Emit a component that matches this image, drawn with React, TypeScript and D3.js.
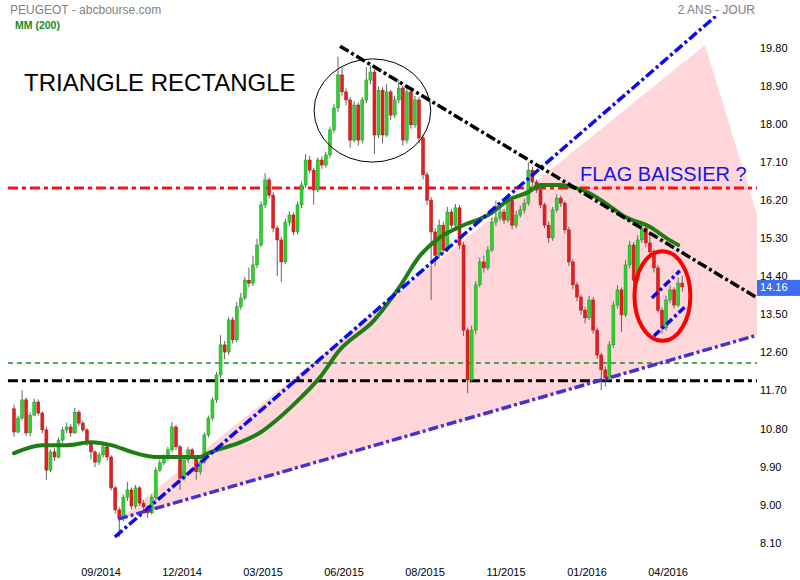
import React from "react";
import * as d3 from "d3";

// closes, one candle per 3 sessions (open = previous close)
const firstOpen = 11.28;
const closes = [
  10.73, 11.06, 11.49, 10.71, 11.13, 11.44, 11.18, 10.78, 9.83, 10.26,
  10.14, 10.54, 10.78, 10.85, 10.71, 11.2, 10.94, 10.78, 10.47, 10.26,
  10.02, 10.19, 10.38, 10.14, 9.41, 8.89, 8.7, 9.19, 9.36, 8.98,
  9.41, 9.05, 8.96, 8.82, 9.19, 9.83, 10.0, 10.12, 10.31, 10.85,
  10.38, 9.64, 10.07, 10.31, 10.14, 9.79, 10.02, 10.66, 11.06, 11.49,
  12.08, 12.79, 12.62, 13.38, 12.91, 13.69, 13.9, 14.32, 14.25, 14.68,
  15.15, 16.1, 16.69, 16.33, 15.55, 15.27, 14.75, 15.69, 15.86, 15.46,
  16.1, 16.57, 17.16, 16.92, 16.45, 17.16, 17.04, 17.28, 17.87, 18.39,
  19.17, 18.77, 18.58, 17.63, 18.46, 17.63, 18.58, 19.05, 19.24, 17.75,
  18.81, 17.75, 18.77, 18.22, 18.58, 18.86, 17.63, 18.77, 17.99, 18.58,
  17.68, 16.81, 16.21, 15.46, 14.91, 15.62, 15.03, 15.93, 15.62, 16.03,
  15.15, 13.14, 11.96, 13.14, 14.21, 14.75, 14.61, 15.03, 15.69, 15.79,
  15.93, 15.74, 16.21, 15.62, 15.86, 15.98, 16.14, 16.92, 16.64, 16.45,
  16.1, 15.62, 15.32, 15.98, 16.26, 16.14, 15.51, 14.75, 14.21, 13.92,
  13.61, 13.43, 13.85, 13.14, 12.55, 12.2, 12.01, 12.79, 13.73, 14.09,
  13.5, 14.68, 15.15, 14.32, 15.27, 15.55, 15.2, 14.99, 14.61, 13.61,
  13.19, 13.85, 14.09, 13.73, 14.25, 14.16,
];
const highs = [
  11.38, 11.12, 11.72, 11.55, 11.2, 11.52, 11.5, 11.22, 10.85, 10.32,
  10.35, 10.6, 10.85, 10.95, 10.92, 11.3, 11.25, 11.0, 10.82, 10.52,
  10.3, 10.25, 10.45, 10.42, 10.18, 9.45, 8.95, 9.25, 9.55, 9.42,
  9.48, 9.45, 9.12, 9.0, 9.25, 9.9, 10.08, 10.2, 10.38, 10.97,
  10.9, 10.42, 10.12, 10.38, 10.36, 10.18, 10.08, 10.72, 11.12, 11.55,
  12.15, 13.02, 12.88, 13.45, 13.45, 13.8, 14.02, 14.4, 14.62, 14.9,
  15.3, 16.18, 16.85, 16.75, 16.4, 15.62, 15.35, 15.78, 15.95, 15.92,
  16.18, 16.65, 17.3, 17.25, 16.98, 17.22, 17.25, 17.35, 17.95, 18.48,
  19.6, 19.35, 18.85, 18.65, 18.55, 18.52, 18.65, 19.35, 19.4, 19.3,
  18.9, 18.88, 18.95, 18.82, 18.68, 19.05, 18.92, 18.88, 18.85, 18.68,
  18.65, 17.75, 16.88, 16.28, 15.55, 15.75, 15.7, 16.05, 16.0, 16.12,
  16.1, 15.22, 13.2, 13.25, 14.3, 14.85, 14.9, 15.12, 15.8, 16.2,
  16.05, 16.0, 16.3, 16.28, 15.95, 16.08, 16.25, 17.1, 17.0, 16.7,
  16.52, 16.15, 15.7, 16.05, 16.35, 16.32, 16.2, 15.58, 14.82, 14.28,
  13.98, 13.68, 13.95, 13.92, 13.2, 12.6, 12.28, 12.88, 13.82, 14.2,
  14.15, 14.8, 15.25, 15.22, 15.38, 15.65, 15.62, 15.45, 15.05, 14.68,
  13.68, 13.95, 14.2, 14.15, 14.38, 14.42,
];
const lows = [
  10.62, 10.7, 11.0, 10.64, 10.62, 11.1, 11.12, 10.7, 9.6, 9.78,
  10.05, 10.1, 10.48, 10.7, 10.62, 10.68, 10.88, 10.72, 10.4, 10.08,
  9.9, 9.95, 10.12, 10.05, 9.35, 8.8, 8.25, 8.62, 9.1, 8.9,
  8.92, 8.98, 8.88, 8.7, 8.78, 9.12, 9.78, 9.95, 10.05, 10.25,
  10.3, 9.36, 9.58, 10.0, 10.08, 9.6, 9.72, 9.98, 10.6, 11.0,
  11.42, 12.0, 12.45, 12.55, 12.82, 12.85, 13.62, 13.85, 14.15, 14.18,
  14.6, 15.1, 16.02, 16.25, 15.45, 14.42, 14.28, 14.7, 15.6, 15.38,
  15.4, 16.02, 16.5, 16.85, 16.1, 16.4, 16.95, 16.98, 17.2, 17.8,
  18.3, 18.68, 18.45, 17.45, 17.58, 17.5, 17.55, 18.5, 18.95, 17.3,
  17.68, 17.55, 17.7, 18.1, 18.15, 18.5, 17.5, 17.55, 17.9, 17.92,
  17.55, 16.7, 16.1, 13.85, 14.65, 14.85, 14.95, 14.98, 15.55, 15.55,
  15.05, 13.0, 11.65, 11.9, 13.05, 14.15, 14.5, 14.55, 14.98, 15.6,
  15.72, 15.65, 15.68, 15.52, 15.55, 15.8, 15.9, 16.08, 16.55, 16.38,
  16.02, 15.55, 15.2, 15.25, 15.92, 16.05, 15.42, 14.65, 14.1, 13.82,
  13.5, 13.3, 13.38, 13.05, 12.45, 11.72, 11.8, 11.95, 12.72, 13.65,
  13.1, 13.45, 14.6, 14.2, 14.25, 15.2, 15.1, 14.9, 14.5, 13.55,
  13.05, 13.12, 13.78, 13.65, 13.68, 14.05,
];

// moving average 200, read at some candle positions
const mmIndex = [0, 7, 13, 19, 24, 29, 35, 46, 48, 56, 61, 66, 71, 76, 80, 89, 95, 100, 105, 110, 118, 122, 127, 130, 135, 138, 142, 146, 151, 157, 161, 164];
const mmValues = [10.23, 10.42, 10.42, 10.49, 10.42, 10.26, 10.14, 10.14, 10.23, 10.49, 10.73, 11.11, 11.56, 12.08, 12.62, 13.38, 14.13, 14.87, 15.32, 15.58, 15.91, 16.21, 16.4, 16.57, 16.57, 16.52, 16.38, 16.14, 15.81, 15.58, 15.32, 15.15];

const yTicks = [19.8, 18.9, 18.0, 17.1, 16.2, 15.3, 14.4, 13.5, 12.6, 11.7, 10.8, 9.9, 9.0, 8.1];
const xTickLabels = ["09/2014", "12/2014", "03/2015", "06/2015", "08/2015", "11/2015", "01/2016", "04/2016"];

// drawn annotations, [candle index, price]
const upperTrend = [[24.9, 8.25], [174.0, 20.62]];
const lowerTrend = [[25.7, 8.67], [183.5, 13.02]];
const downTrend = [[80.5, 19.85], [183.5, 13.9]];
const flagTop = [[157.5, 13.9], [164.4, 14.54]];
const flagBottom = [[158.0, 13.0], [165.7, 13.69]];
const pinkZone = [[25.7, 8.65], [170.6, 19.88], [183.5, 15.86], [183.5, 13.02]];
const resistance = 16.5;
const greenLevel = 12.36;
const support = 11.94;
const lastPrice = 14.16;

const font = "'Liberation Sans', Arial, sans-serif";

export default function App() {
  const x = d3.scaleLinear().domain([0, 165]).range([14, 682.25]);
  const y = d3.scaleLinear().domain([8.1, 19.8]).range([543.3, 48.3]);
  const xEnd = 183.5;
  const xStart = -1.5;

  const seg = d3.line<number[]>().x((d) => x(d[0])).y((d) => y(d[1]));
  const mmLine = d3
    .line<number>()
    .x((d, i) => x(mmIndex[i]))
    .y((d) => y(d))
    .curve(d3.curveMonotoneX);

  const bw = 3;

  return (
    <svg width={800} height={580} style={{ position: "absolute", left: 0, top: 0, background: "#fff" }} fontFamily={font}>
      <defs>
        <clipPath id="plot">
          <rect x={0} y={16} width={757} height={543} />
        </clipPath>
      </defs>

      <g clipPath="url(#plot)">
        <path d={seg(pinkZone)! + "Z"} fill="#ffd6da" />

        <line x1={x(xStart)} x2={x(xEnd)} y1={y(resistance)} y2={y(resistance)} stroke="#ff1010" strokeWidth={3} strokeDasharray="10,4,4,4" />
        <line x1={x(xStart)} x2={x(xEnd)} y1={y(greenLevel)} y2={y(greenLevel)} stroke="#1a8a1a" strokeWidth={1.5} strokeDasharray="5,4" />
        <line x1={x(xStart)} x2={x(xEnd)} y1={y(support)} y2={y(support)} stroke="#000" strokeWidth={3} strokeDasharray="10,4,4,4" />

        {closes.map((c, i) => {
          const o = i === 0 ? firstOpen : closes[i - 1];
          const up = c >= o;
          const cx = x(i);
          const top = y(Math.max(o, c));
          const bot = y(Math.min(o, c));
          return (
            <g key={i}>
              <line x1={cx} x2={cx} y1={y(highs[i])} y2={y(lows[i])} stroke="#666" strokeWidth={1} />
              <rect
                x={cx - bw / 2}
                y={top}
                width={bw}
                height={Math.max(1, bot - top)}
                fill={up ? "#2fd12f" : "#e41e1e"}
                stroke={up ? "#1f9a1f" : "#b01515"}
                strokeWidth={0.5}
              />
            </g>
          );
        })}

        <path d={mmLine(mmValues)!} fill="none" stroke="#1e7d14" strokeWidth={4} strokeLinecap="round" />

        <path d={seg(upperTrend)!} stroke="#0a0aee" strokeWidth={3.5} strokeDasharray="10,3,3,3" fill="none" />
        <path d={seg(lowerTrend)!} stroke="#4630d2" strokeWidth={3.5} strokeDasharray="10,3,3,3" fill="none" />
        <path d={seg(downTrend)!} stroke="#000" strokeWidth={3.5} strokeDasharray="10,3,3,3" fill="none" />

        <ellipse cx={x(88.5)} cy={y(18.33)} rx={x(88.5 + 14.4) - x(88.5)} ry={y(18.33 - 1.22) - y(18.33)} fill="none" stroke="#000" strokeWidth={1} />
        <ellipse cx={x(160.1)} cy={y(13.945)} rx={x(160.1 + 6.9) - x(160.1)} ry={y(13.945 - 1.06) - y(13.945)} fill="none" stroke="#ff0000" strokeWidth={4} />
        <path d={seg(flagTop)!} stroke="#0a0aee" strokeWidth={3.5} strokeDasharray="8,3,3,3" fill="none" />
        <path d={seg(flagBottom)!} stroke="#0a0aee" strokeWidth={3.5} strokeDasharray="8,3,3,3" fill="none" />
      </g>

      <text x={24} y={91} fontSize={24} fill="#000">TRIANGLE RECTANGLE</text>
      <text x={580} y={181} fontSize={20} fill="#1515e6">FLAG BAISSIER ?</text>

      <text x={10} y={14} fontSize={12} fill="#808080">PEUGEOT - abcbourse.com</text>
      <text x={15} y={29} fontSize={10.5} fill="#1a8a1a" fontWeight="bold">MM (200)</text>
      <text x={755} y={14} fontSize={12} fill="#808080" textAnchor="end">2 ANS - JOUR</text>

      {yTicks.map((t) => (
        <text key={t} x={760} y={y(t) + 3.5} fontSize={11} fill="#000">{t.toFixed(2)}</text>
      ))}
      <rect x={757} y={y(lastPrice) - 7} width={43} height={16} fill="#3d6ef2" />
      <text x={760} y={y(lastPrice) + 4.5} fontSize={11} fill="#fff">{lastPrice.toFixed(2)}</text>

      {xTickLabels.map((l, k) => (
        <text key={l} x={x(21.5 + 20 * k)} y={576} fontSize={11} fill="#000" textAnchor="middle">{l}</text>
      ))}
    </svg>
  );
}
